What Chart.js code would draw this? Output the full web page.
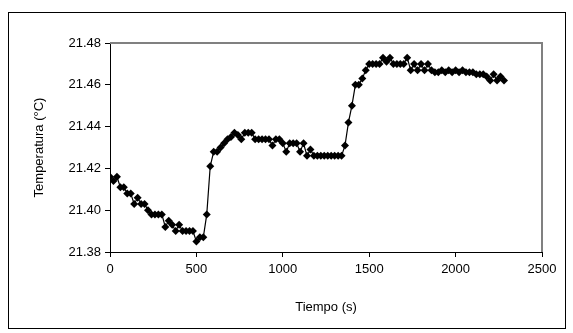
<!DOCTYPE html>
<html>
<head>
<meta charset="utf-8">
<script src="https://cdn.jsdelivr.net/npm/chart.js@4/dist/chart.umd.min.js"></script>
<style>
  body { margin: 0; background: #fff; }
</style>
</head>
<body>
<canvas id="tempChart" width="573" height="333"></canvas>
<script>
// tiempo (s), cada 20 s
const tiempos = [
    0, 20, 40, 60, 80, 100, 120, 140, 160, 180, 200, 220, 240, 260, 280, 300, 320, 340, 360, 380,
    400, 420, 440, 460, 480, 500, 520, 540, 560, 580, 600, 620, 640, 660, 680, 700, 720, 740, 760, 780,
    800, 820, 840, 860, 880, 900, 920, 940, 960, 980, 1000, 1020, 1040, 1060, 1080, 1100, 1120, 1140, 1160, 1180,
    1200, 1220, 1240, 1260, 1280, 1300, 1320, 1340, 1360, 1380, 1400, 1420, 1440, 1460, 1480, 1500, 1520, 1540, 1560, 1580,
    1600, 1620, 1640, 1660, 1680, 1700, 1720, 1740, 1760, 1780, 1800, 1820, 1840, 1860, 1880, 1900, 1920, 1940, 1960, 1980,
    2000, 2020, 2040, 2060, 2080, 2100, 2120, 2140, 2160, 2180, 2200, 2220, 2240, 2260, 2280
];
// temperatura (°C)
const temperaturas = [
    21.416, 21.414, 21.416, 21.411, 21.411, 21.408, 21.408, 21.403, 21.406, 21.403,
    21.403, 21.400, 21.398, 21.398, 21.398, 21.398, 21.392, 21.395, 21.393, 21.390,
    21.393, 21.390, 21.390, 21.390, 21.390, 21.385, 21.387, 21.387, 21.398, 21.421,
    21.428, 21.428, 21.430, 21.432, 21.434, 21.435, 21.437, 21.436, 21.434, 21.437,
    21.437, 21.437, 21.434, 21.434, 21.434, 21.434, 21.434, 21.431, 21.434, 21.434,
    21.432, 21.428, 21.432, 21.432, 21.432, 21.428, 21.432, 21.426, 21.429, 21.426,
    21.426, 21.426, 21.426, 21.426, 21.426, 21.426, 21.426, 21.426, 21.431, 21.442,
    21.450, 21.460, 21.460, 21.463, 21.467, 21.470, 21.470, 21.470, 21.470, 21.473,
    21.471, 21.473, 21.470, 21.470, 21.470, 21.470, 21.473, 21.467, 21.470, 21.467,
    21.470, 21.467, 21.470, 21.467, 21.466, 21.466, 21.467, 21.466, 21.467, 21.466,
    21.467, 21.466, 21.467, 21.466, 21.466, 21.466, 21.465, 21.465, 21.465, 21.464,
    21.462, 21.465, 21.462, 21.464, 21.462
];
const xTicks = [0, 500, 1000, 1500, 2000, 2500];
const yTicks = [21.38, 21.40, 21.42, 21.44, 21.46, 21.48];

const font = { family: 'Arial, "Liberation Sans", sans-serif', size: 13 };

// marco del gráfico y borde gris del área de trazado
const framePlugin = {
    id: 'frame',
    beforeDraw(chart) {
        const ctx = chart.ctx;
        ctx.save();
        ctx.fillStyle = '#fff';
        ctx.fillRect(0, 0, chart.width, chart.height);
        ctx.strokeStyle = '#000';
        ctx.lineWidth = 1;
        ctx.strokeRect(8.5, 12.5, 557, 316);
        ctx.restore();
    },
    beforeDatasetsDraw(chart) {
        const {ctx, chartArea: a} = chart;
        ctx.save();
        ctx.strokeStyle = '#808080';
        ctx.lineWidth = 2;
        ctx.beginPath();
        ctx.moveTo(a.left, a.top);
        ctx.lineTo(a.right, a.top);
        ctx.lineTo(a.right, a.bottom);
        ctx.stroke();
        ctx.restore();
    }
};

new Chart(document.getElementById('tempChart'), {
    type: 'line',
    data: {
        datasets: [{
            data: tiempos.map((t, i) => ({x: t, y: temperaturas[i]})),
            borderColor: '#000',
            borderWidth: 1.2,
            backgroundColor: '#000',
            pointStyle: 'rectRot',
            pointRadius: 4,
            pointBorderWidth: 0,
            tension: 0
        }]
    },
    options: {
        responsive: false,
        animation: false,
        layout: { padding: { top: 43, right: 31, bottom: 0, left: 0 } },
        plugins: { legend: { display: false }, tooltip: { enabled: false } },
        scales: {
            x: {
                type: 'linear',
                min: 0,
                max: 2500,
                afterBuildTicks: s => { s.ticks = xTicks.map(v => ({value: v})); },
                afterFit: s => { s.height = 81; },
                grid: { drawOnChartArea: false, tickLength: 5, color: '#000' },
                border: { color: '#000', width: 1 },
                ticks: { color: '#000', font: font, padding: 5, maxRotation: 0, callback: v => String(v) },
                title: { display: true, text: 'Tiempo (s)', color: '#000', font: font, padding: { bottom: 18 } }
            },
            y: {
                min: 21.38,
                max: 21.48,
                afterBuildTicks: s => { s.ticks = yTicks.map(v => ({value: v})); },
                afterFit: s => { s.width = 110; },
                grid: { drawOnChartArea: false, tickLength: 5, color: '#000' },
                border: { color: '#000', width: 1 },
                ticks: { color: '#000', font: font, padding: 4, callback: v => v.toFixed(2) },
                title: { display: true, text: 'Temperatura (°C)', color: '#000', font: font, padding: { top: 32 } }
            }
        }
    },
    plugins: [framePlugin]
});
</script>
</body>
</html>
